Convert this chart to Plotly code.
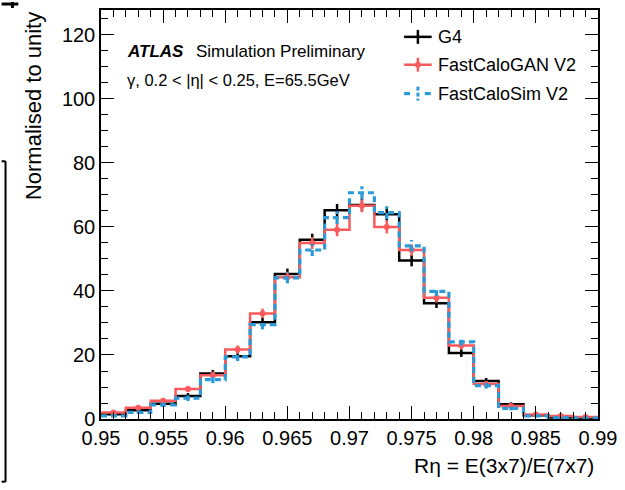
import plotly.graph_objects as go

# ---------------- data ----------------
bin_edges = [0.950, 0.952, 0.954, 0.956, 0.958, 0.960, 0.962, 0.964, 0.966, 0.968,
             0.970, 0.972, 0.974, 0.976, 0.978, 0.980, 0.982, 0.984, 0.986, 0.988, 0.990]

g4 = [1.5, 2.7, 4.8, 7.2, 14.2, 19.6, 30.2, 45.3, 56.0, 65.2,
      66.9, 64.0, 49.5, 36.2, 20.6, 11.9, 4.6, 1.2, 0.5, 0.3]
gan = [2.0, 3.5, 5.7, 9.4, 13.7, 21.7, 33.0, 44.3, 55.0, 59.1,
       66.6, 60.0, 52.8, 37.9, 23.0, 10.9, 4.1, 1.4, 0.9, 0.6]
sim = [1.0, 2.1, 4.4, 6.5, 12.3, 19.4, 29.5, 44.1, 52.8, 62.9,
       70.7, 64.5, 54.1, 39.9, 24.1, 10.4, 3.3, 1.0, 0.4, 0.3]

g4_err = [0.4, 0.5, 0.7, 0.9, 1.1, 1.3, 1.5, 1.7, 1.9, 2.0,
          2.0, 2.0, 1.8, 1.5, 1.2, 0.9, 0.6, 0.3, 0.2, 0.2]
gan_err = [0.4, 0.5, 0.7, 0.9, 1.1, 1.3, 1.5, 1.7, 1.9, 2.0,
           2.0, 2.0, 1.8, 1.5, 1.2, 0.9, 0.6, 0.3, 0.2, 0.2]
sim_err = [0.4, 0.5, 0.7, 0.9, 1.1, 1.3, 1.5, 1.7, 1.9, 2.0,
           2.0, 2.0, 1.8, 1.5, 1.2, 0.9, 0.6, 0.3, 0.2, 0.2]

x_tick_vals = [0.95, 0.955, 0.96, 0.965, 0.97, 0.975, 0.98, 0.985, 0.99]
x_tick_text = ["0.95", "0.955", "0.96", "0.965", "0.97", "0.975", "0.98", "0.985", "0.99"]
y_tick_vals = [0, 20, 40, 60, 80, 100, 120]

BLACK = "#000000"
RED = "#fb5a5c"
BLUE = "#2b9ad6"

FONT = "Liberation Sans, Arial, sans-serif"

# ---------------- layout geometry (pixels) ----------------
W, H = 625, 490
L, R, T, B = 101, 19, 8, 71
PW, PH = W - L - R, H - T - B


def px(xp):
    return (xp - L) / PW


def py(ypix):
    return (H - B - ypix) / PH


centers = [(bin_edges[i] + bin_edges[i + 1]) / 2 for i in range(len(bin_edges) - 1)]

fig = go.Figure()


def add_series(vals, errs, color, dash, width, marker):
    fig.add_trace(go.Scatter(
        x=bin_edges, y=vals + [vals[-1]], mode="lines", line_shape="hv",
        line=dict(color=color, width=width, dash=dash), showlegend=False, hoverinfo="skip"))
    ex, ey = [], []
    for c, v, e in zip(centers, vals, errs):
        ex += [c, c, None]
        ey += [v - e, v + e, None]
    fig.add_trace(go.Scatter(
        x=ex, y=ey, mode="lines", line=dict(color=color, width=width, dash=dash),
        showlegend=False, hoverinfo="skip"))
    if marker:
        fig.add_trace(go.Scatter(
            x=centers, y=vals, mode="markers",
            marker=dict(color=color, size=6, symbol="circle"),
            showlegend=False, hoverinfo="skip"))


add_series(g4, g4_err, BLACK, "solid", 2.5, False)
add_series(gan, gan_err, RED, "solid", 2.5, True)
add_series(sim, sim_err, BLUE, "6px,4px", 3.2, False)

shapes = []
annotations = []

# legend (drawn manually, ROOT-style)
leg = [("G4", BLACK, 35, "solid", False), ("FastCaloGAN V2", RED, 63, "solid", True),
       ("FastCaloSim V2", BLUE, 92, "dash", False)]
for name, col, yy, ds, dot in leg:
    if ds == "dash":
        for a, b in [(409, 415), (430, 436)]:
            shapes.append(dict(type="line", xref="paper", yref="paper", x0=px(a), x1=px(b),
                               y0=py(yy), y1=py(yy), line=dict(color=col, width=3.2)))
        for a, b in [(yy - 7, yy - 3), (yy - 1, yy + 3), (yy + 5, yy + 7)]:
            shapes.append(dict(type="line", xref="paper", yref="paper", x0=px(423), x1=px(423),
                               y0=py(a), y1=py(b), line=dict(color=col, width=3)))
    else:
        shapes.append(dict(type="line", xref="paper", yref="paper", x0=px(409), x1=px(437),
                           y0=py(yy), y1=py(yy), line=dict(color=col, width=2.5)))
        shapes.append(dict(type="line", xref="paper", yref="paper", x0=px(423), x1=px(423),
                           y0=py(yy - 7), y1=py(yy + 7), line=dict(color=col, width=2.5)))
    if dot:
        shapes.append(dict(type="circle", xref="paper", yref="paper",
                           x0=px(420), x1=px(426), y0=py(yy - 3), y1=py(yy + 3),
                           fillcolor=col, line=dict(color=col, width=0)))
    annotations.append(dict(text=name, xref="paper", yref="paper", x=px(441), y=py(yy),
                            xanchor="left", yanchor="middle", showarrow=False,
                            font=dict(family=FONT, size=18, color="black")))

# ATLAS label
annotations.append(dict(text="<b><i>ATLAS</i></b>", xref="paper", yref="paper", x=px(125), y=py(50),
                        xanchor="left", yanchor="middle", showarrow=False,
                        font=dict(family=FONT, size=17, color="black")))
annotations.append(dict(text="Simulation Preliminary", xref="paper", yref="paper", x=px(196), y=py(50),
                        xanchor="left", yanchor="middle", showarrow=False,
                        font=dict(family=FONT, size=17, color="black")))
annotations.append(dict(text="γ, 0.2 < |η| < 0.25, E=65.5GeV", xref="paper", yref="paper", x=px(125),
                        y=py(78), xanchor="left", yanchor="middle", showarrow=False,
                        font=dict(family=FONT, size=16.5, color="black")))

# axis titles
annotations.append(dict(text="Rη = E(3x7)/E(7x7)", xref="paper", yref="paper", x=px(604), y=py(466),
                        xanchor="right", yanchor="middle", showarrow=False,
                        font=dict(family=FONT, size=21, color="black")))
annotations.append(dict(text="Normalised to unity", xref="paper", yref="paper", x=px(32), y=py(8),
                        xanchor="center", yanchor="top", textangle=-90, showarrow=False,
                        font=dict(family=FONT, size=22, color="black")))

# stray frame fragments at the left edge of the picture
for (a, b, c, d) in [(0, 160, 4, 160), (4, 160, 4, 482), (0, 482, 4, 482)]:
    shapes.append(dict(type="line", xref="paper", yref="paper", x0=px(a), x1=px(c),
                       y0=py(b), y1=py(d), line=dict(color="black", width=2)))
shapes.append(dict(type="line", xref="paper", yref="paper", x0=px(0), x1=px(17),
                   y0=py(2), y1=py(2), line=dict(color="black", width=3)))
shapes.append(dict(type="line", xref="paper", yref="paper", x0=px(11), x1=px(11),
                   y0=py(0), y1=py(6), line=dict(color="black", width=3)))

fig.update_layout(
    width=W, height=H,
    margin=dict(l=L, r=R, t=T, b=B, pad=0),
    paper_bgcolor="white", plot_bgcolor="white",
    showlegend=False,
    shapes=shapes, annotations=annotations,
    font=dict(family=FONT, color="black"),
)
fig.update_xaxes(
    range=[0.9499999, 0.9900001], tickvals=x_tick_vals, ticktext=x_tick_text,
    ticks="inside", ticklen=13, tickwidth=1.3, tickcolor="black",
    minor=dict(ticks="inside", ticklen=7, dtick=0.001, tickwidth=1.3, tickcolor="black", showgrid=False),
    showline=True, linecolor="black", linewidth=1.5, mirror="allticks",
    showgrid=False, zeroline=False, tickfont=dict(family=FONT, size=20, color="black"),
    ticklabeloverflow="allow",
)
fig.update_yaxes(
    range=[0, 127.8], tickvals=y_tick_vals,
    ticks="inside", ticklen=13, tickwidth=1.3, tickcolor="black",
    minor=dict(ticks="inside", ticklen=7, dtick=5, tickwidth=1.3, tickcolor="black", showgrid=False),
    showline=True, linecolor="black", linewidth=1.5, mirror="allticks",
    showgrid=False, zeroline=False, tickfont=dict(family=FONT, size=20, color="black"),
)

fig.write_html("out.html", config={"displayModeBar": False},
               post_script="document.body.style.margin='0';document.body.style.overflow='hidden';")
